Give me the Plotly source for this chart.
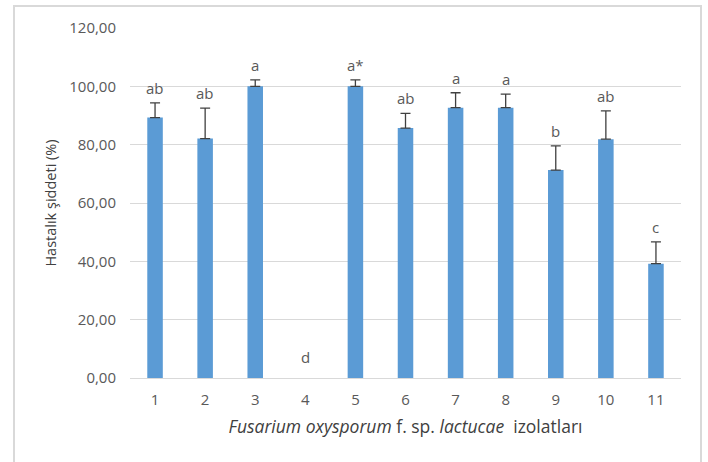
import plotly.graph_objects as go

categories = ["1", "2", "3", "4", "5", "6", "7", "8", "9", "10", "11"]
values = [89.3, 82.1, 100.0, 0.0, 100.0, 85.7, 92.7, 92.7, 71.3, 81.9, 39.2]
errors = [5.0, 10.4, 2.2, 0.0, 2.2, 5.0, 5.1, 4.6, 8.3, 9.7, 7.5]
letters = ["ab", "ab", "a", "d", "a*", "ab", "a", "a", "b", "ab", "c"]
y_ticks = [0, 20, 40, 60, 80, 100, 120]
y_ticklabels = ["0,00", "20,00", "40,00", "60,00", "80,00", "100,00", "120,00"]

font_family = "Open Sans, Liberation Sans, sans-serif"
grey = "#595959"

W, H = 708, 462
ML, MR, MT, MB = 130, 27, 28, 84
pw, ph = W - ML - MR, H - MT - MB

idx = list(range(len(categories)))

fig = go.Figure()
fig.add_trace(go.Bar(
    x=idx, y=values,
    marker=dict(color="#5b9bd5", line=dict(width=0)),
    width=0.31, hoverinfo="skip",
))

# error bars (plus direction only), only where an error exists
ex = [i for i, e in zip(idx, errors) if e > 0]
ey = [v for v, e in zip(values, errors) if e > 0]
ee = [e for e in errors if e > 0]
fig.add_trace(go.Scatter(
    x=ex, y=ey, mode="markers",
    marker=dict(size=1, color="rgba(0,0,0,0)"),
    error_y=dict(type="data", array=ee, symmetric=False,
                 arrayminus=[0] * len(ee),
                 color="#404040", thickness=1.3, width=5),
    hoverinfo="skip",
))

for i, (v, e, t) in enumerate(zip(values, errors, letters)):
    fig.add_annotation(x=i, y=v + e, text=t, showarrow=False,
                       yanchor="bottom", yshift=(9 if e == 0 else 3),
                       font=dict(family=font_family, size=15, color=grey))

fig.update_layout(
    width=W, height=H,
    margin=dict(l=ML, r=MR, t=MT, b=MB, autoexpand=False),
    plot_bgcolor="white", paper_bgcolor="white",
    showlegend=False,
    font=dict(family=font_family, color=grey, size=13),
    xaxis=dict(
        range=[-0.5, len(categories) - 0.5],
        tickvals=idx, ticktext=categories,
        showgrid=False, showline=True, linecolor="#d9d9d9", linewidth=1,
        ticks="", ticklabelstandoff=8,
        tickfont=dict(size=15, color=grey), automargin=False,
        title=dict(text="<i>Fusarium oxysporum</i> f. sp. <i>lactucae</i>  izolatları",
                   font=dict(size=17.5, color="#404040"), standoff=12),
    ),
    yaxis=dict(
        range=[0, 120], tickvals=y_ticks, ticktext=y_ticklabels,
        showgrid=True, gridcolor="#d9d9d9", gridwidth=1,
        zeroline=False, showline=False, ticks="", ticklabelstandoff=13,
        tickfont=dict(size=15, color=grey), automargin=False,
        title=dict(text="Hastalık şiddeti (%)", font=dict(size=14.5, color="#404040"),
                   standoff=9),
    ),
)

fig.add_shape(type="rect", xref="paper", yref="paper",
              x0=(14 - ML) / pw, x1=(701 - ML) / pw,
              y0=-(MB + 10) / ph, y1=1 + (MT - 6) / ph,
              line=dict(color="#d9d9d9", width=2))

fig.write_html("out.html", config={"displayModeBar": False},
               post_script="document.body.style.margin='0';")
